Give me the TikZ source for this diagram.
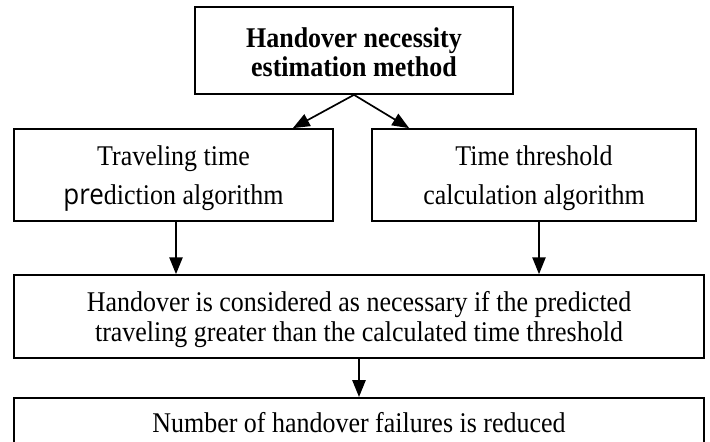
\documentclass[tikz,border=0pt]{standalone}
\usepackage{fontspec}
\setmainfont{Liberation Serif}[FakeStretch=0.91]
\newfontfamily\prefont{Open Sans}[FakeStretch=0.91]
\usepackage{tikz}
\usetikzlibrary{positioning, arrows.meta}

\begin{document}
\begin{tikzpicture}[
    box/.style={draw, line width=1.2pt, inner sep=0pt, align=center,
        text height=0.5cm, text depth=0pt,
        font=\fontsize{20.3}{22}\selectfont},
    topbox/.style={box, minimum width=7.95cm, minimum height=2.175cm,
        text height=1.325cm, font=\fontsize{20.3}{21.3}\selectfont\bfseries},
    midbox/.style={box, minimum height=2.3cm, text height=1.475cm,
        font=\fontsize{20.3}{27.7}\selectfont},
    widebox/.style={box, minimum width=17.25cm},
    arrow/.style={-{Triangle[length=4.2mm, width=3.3mm]}, line width=1.2pt},
]

% Frame of the page (cuts the last box)
\clip (0, 0) rectangle (17.75, 11.025);

% Top box
\node[topbox] (method) at (8.85, 9.7625) {Handover necessity\\estimation method};

% Middle row
\node[midbox, minimum width=7.975cm] (predict) at (4.3375, 6.65)
    {Traveling time\\{\prefont pre}diction algorithm};
\node[midbox, minimum width=8.1cm] (thresh) at (13.35, 6.65)
    {Time threshold\\calculation algorithm};

% Decision box
\node[widebox, minimum height=2.075cm, text height=1.275cm] (decide) at (8.975, 3.1125)
    {Handover is considered as necessary if the predicted\\traveling greater than the calculated time threshold};

% Result box
\node[widebox, anchor=north, inner ysep=0.375cm, text depth=2cm]
    (result) at (8.975, 1.1) {Number of handover failures is reduced};

% Arrow starts under the middle boxes
\coordinate (pdown) at ([xshift=0.0625cm]predict.south);
\coordinate (tdown) at ([xshift=0.125cm]thresh.south);

% Arrows
\draw[arrow] (method.south) -- ([xshift=-1.025cm]predict.north east);
\draw[arrow] (method.south) -- ([xshift=0.95cm]thresh.north west);
\draw[arrow] (pdown) -- (pdown |- decide.north);
\draw[arrow] (tdown) -- (tdown |- decide.north);
\draw[arrow] (decide.south) -- (result.north);

\end{tikzpicture}
\end{document}
